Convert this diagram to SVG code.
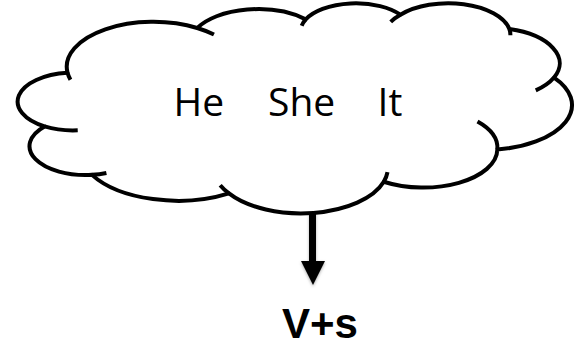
<svg xmlns="http://www.w3.org/2000/svg" width="579" height="351" viewBox="0 0 579 351">
  <style>
    .outline { fill: #ffffff; stroke: #000000; stroke-width: 4; stroke-linejoin: round; }
    .tail { fill: none; stroke: #000000; stroke-width: 4; stroke-linecap: butt; }
    .word { font-family: "Open Sans", "Noto Sans", sans-serif; font-size: 39px; fill: #000000; }
    .result { font-family: "Liberation Sans", Arial, sans-serif; font-weight: bold; font-size: 42px; fill: #000000; }
  </style>
  <defs>
    <filter id="shadow" x="-50%" y="-50%" width="200%" height="200%">
      <feDropShadow dx="0" dy="1.5" stdDeviation="1.5" flood-color="#000000" flood-opacity="0.3"/>
    </filter>
  </defs>
  <rect width="579" height="351" fill="#ffffff"/>
  <g id="cloud">
    <path class="outline" d="M67.54,72.74 A86.68,44.86 0 0 1 197.24,27.99 A68.45,35.47 0 0 1 305.74,19.36 A56.03,29.02 0 0 1 400.43,14.73 A62.34,32.19 0 0 1 509.41,29.08 A68.45,35.50 0 0 1 554.0,77.54 A86.96,45.00 0 0 1 497.34,149.50 A74.26,38.40 0 0 1 383.76,181.77 A86.67,44.98 0 0 1 228.99,193.40 A99.09,51.46 0 0 1 91.96,174.86 A55.96,28.89 0 0 1 44.58,126.44 A55.77,29.02 0 0 1 67.54,72.74 Z"/>
    <path class="tail" d="M77.72,130.37 A55.77,29.02 0 0 1 44.58,126.44"/>
    <path class="tail" d="M106.41,172.94 A55.96,28.89 0 0 1 91.96,174.86"/>
    <path class="tail" d="M228.99,193.40 A86.67,44.98 0 0 1 220.19,185.24"/>
    <path class="tail" d="M387.5,172.22 A86.67,44.98 0 0 1 383.76,181.77"/>
    <path class="tail" d="M477.5,121.5 A74.26,38.40 0 0 1 497.34,149.50"/>
    <path class="tail" d="M554.0,77.54 A68.45,35.50 0 0 1 535.75,90.39"/>
    <path class="tail" d="M509.41,29.08 A62.34,32.19 0 0 1 510.39,35.25"/>
    <path class="tail" d="M390.72,21.89 A62.34,32.19 0 0 1 400.43,14.73"/>
    <path class="tail" d="M301.68,25.64 A56.03,29.02 0 0 1 305.74,19.36"/>
    <path class="tail" d="M197.24,27.99 A86.68,44.86 0 0 1 213.94,34.57"/>
    <path class="tail" d="M70.45,79.67 A86.68,44.86 0 0 1 67.54,72.74"/>
    <text class="word" x="173.5" y="116">He</text>
    <text class="word" x="268" y="116">She</text>
    <text class="word" x="377.5" y="116">It</text>
  </g>
  <g id="connectors">
    <g filter="url(#shadow)">
      <rect x="309" y="212" width="7" height="50" fill="#000000"/>
      <polygon points="301,261 325,261 313,285" fill="#000000"/>
    </g>
  </g>
  <g id="result">
    <text class="result" x="282" y="338">V+s</text>
  </g>
</svg>
